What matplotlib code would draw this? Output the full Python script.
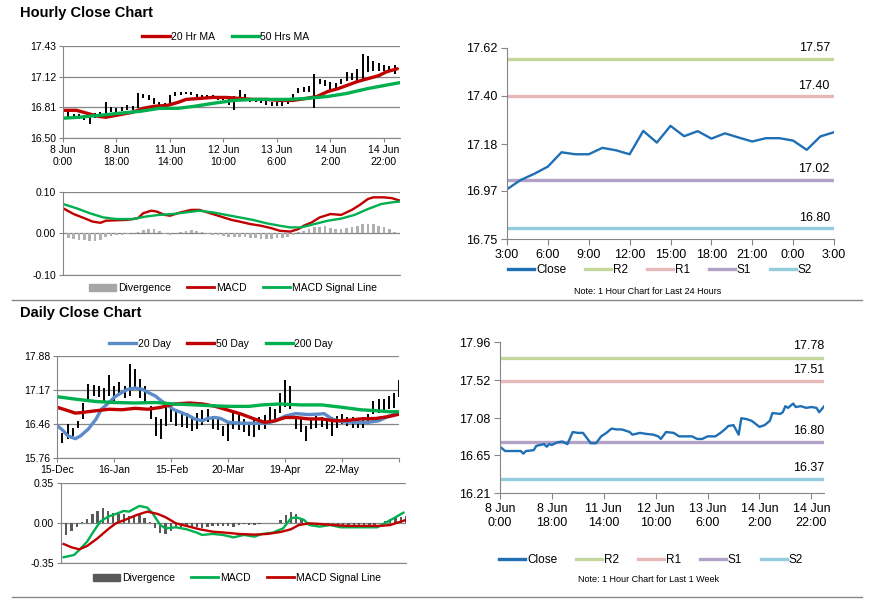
import matplotlib.pyplot as plt
from matplotlib.lines import Line2D
from matplotlib.patches import Patch

plt.rcParams['font.family'] = ['Liberation Sans', 'DejaVu Sans']

GREY = '#868686'
RED = '#c00000'
GREEN = '#00b050'
BLUE20 = '#5b8bc9'
CLOSE = '#1f6fb5'
R2C, R1C, S1C, S2C = '#c3d69b', '#e6b9b8', '#b3a2c7', '#93cddd'

# ---- hourly chart (x = trading hours since 8 Jun 0:00, one bar every 2 hours)
h_idx = list(range(0, 126, 2))
h_low = [16.72, 16.71, 16.70, 16.69, 16.68, 16.64, 16.70, 16.72, 16.74, 16.76,
         16.76, 16.77, 16.78, 16.78, 16.80, 16.90, 16.88, 16.84, 16.80, 16.81,
         16.85, 16.92, 16.93, 16.94, 16.93, 16.89, 16.89, 16.90, 16.89, 16.88,
         16.88, 16.83, 16.78, 16.89, 16.88, 16.86, 16.86, 16.85, 16.83, 16.82,
         16.82, 16.82, 16.84, 16.88, 16.95, 16.96, 16.96, 16.80, 17.05, 17.03,
         16.99, 17.00, 17.05, 17.08, 17.09, 17.08, 17.10, 17.17, 17.18, 17.18,
         17.18, 17.17, 17.15]
h_high = [16.78, 16.76, 16.74, 16.74, 16.73, 16.72, 16.75, 16.76, 16.86, 16.81,
          16.80, 16.81, 16.83, 16.82, 16.95, 16.94, 16.93, 16.90, 16.86, 16.85,
          16.93, 16.97, 16.97, 16.97, 16.97, 16.94, 16.93, 16.93, 16.93, 16.92,
          16.92, 16.90, 16.92, 16.99, 16.94, 16.90, 16.89, 16.89, 16.87, 16.86,
          16.86, 16.86, 16.89, 16.94, 17.01, 17.02, 17.03, 17.15, 17.10, 17.09,
          17.07, 17.06, 17.10, 17.17, 17.16, 17.20, 17.35, 17.33, 17.28, 17.26,
          17.24, 17.23, 17.24]
h_ma20_x = [0, 5, 9, 13, 16, 20, 26, 30, 34, 39, 43, 46, 51, 56, 61, 66, 71, 76, 81, 86,
            91, 95, 99, 103, 106, 110, 114, 118, 121, 125]
h_ma20 = [16.78, 16.78, 16.75, 16.72, 16.71, 16.73, 16.76, 16.80, 16.82, 16.83,
          16.86, 16.89, 16.90, 16.91, 16.91, 16.90, 16.89, 16.89, 16.88, 16.88,
          16.90, 16.92, 16.97, 17.00, 17.03, 17.07, 17.10, 17.13, 17.17, 17.20]
h_ma50_x = [0, 6, 14, 21, 29, 36, 43, 49, 56, 64, 71, 79, 84, 91, 99, 106, 114, 120, 126]
h_ma50 = [16.70, 16.71, 16.73, 16.75, 16.77, 16.80, 16.80, 16.82, 16.85, 16.88,
          16.89, 16.89, 16.89, 16.90, 16.92, 16.95, 17.00, 17.03, 17.06]
h_ticks = [0, 20, 40, 60, 80, 100, 120]
h_labels = ['8 Jun\n0:00', '8 Jun\n18:00', '11 Jun\n14:00', '12 Jun\n10:00',
            '13 Jun\n6:00', '14 Jun\n2:00', '14 Jun\n22:00']

h_div = [-0.010, -0.012, -0.014, -0.015, -0.017, -0.018, -0.018, -0.016, -0.010, -0.006,
         -0.004, -0.003, -0.002, 0.000, 0.004, 0.008, 0.011, 0.010, 0.005, -0.001,
         -0.003, 0.001, 0.004, 0.006, 0.007, 0.005, 0.002, -0.001, -0.003, -0.005,
         -0.007, -0.009, -0.010, -0.010, -0.010, -0.011, -0.012, -0.013, -0.013, -0.013,
         -0.012, -0.011, -0.009, -0.004, 0.002, 0.006, 0.010, 0.014, 0.016, 0.017,
         0.013, 0.010, 0.009, 0.012, 0.015, 0.018, 0.021, 0.022, 0.021, 0.018,
         0.014, 0.010, 0.004]
h_macd_x = [0, 4, 8, 11, 14, 16, 20, 24, 28, 30, 33, 35, 38, 40, 44, 48, 51, 55, 59, 63,
            66, 70, 74, 78, 81, 85, 88, 90, 93, 96, 100, 104, 108, 111, 114, 116, 120, 123, 126]
h_macd = [0.060, 0.046, 0.036, 0.028, 0.025, 0.030, 0.031, 0.032, 0.036, 0.048,
          0.054, 0.052, 0.044, 0.042, 0.050, 0.056, 0.056, 0.048, 0.040, 0.032,
          0.028, 0.022, 0.018, 0.012, 0.006, 0.004, 0.010, 0.018, 0.026, 0.038,
          0.046, 0.044, 0.056, 0.068, 0.082, 0.086, 0.086, 0.084, 0.078]
h_sig_x = [0, 5, 10, 15, 20, 26, 31, 36, 41, 46, 51, 56, 61, 66, 71, 76, 81, 85, 89, 94,
           99, 104, 109, 114, 119, 123, 126]
h_sig = [0.070, 0.060, 0.048, 0.038, 0.034, 0.034, 0.040, 0.044, 0.046, 0.050,
         0.054, 0.050, 0.044, 0.038, 0.032, 0.024, 0.018, 0.014, 0.014, 0.022,
         0.030, 0.035, 0.044, 0.058, 0.070, 0.074, 0.076]

# ---- last 24 hours
d24_labels = ['3:00', '6:00', '9:00', '12:00', '15:00', '18:00', '21:00', '0:00', '3:00']
d24_close = [16.976, 17.018, 17.046, 17.079, 17.144, 17.135, 17.135, 17.164, 17.153,
             17.135, 17.241, 17.188, 17.264, 17.217, 17.240, 17.206, 17.230, 17.211,
             17.193, 17.208, 17.208, 17.197, 17.155, 17.216, 17.235]
d24_levels = {'R2': 17.57, 'R1': 17.40, 'S1': 17.02, 'S2': 16.80}

# ---- daily chart (x = trading days since 15 Dec, one bar every 2 days)
d_idx = list(range(0, 133, 2))
d_low = [15.92, 16.08, 16.15, 16.22, 16.39, 16.56, 16.98, 17.05, 17.02, 16.95,
         17.05, 16.95, 17.09, 17.00, 17.05, 17.20, 17.00, 16.90, 16.57, 16.22,
         16.15, 16.43, 16.50, 16.43, 16.40, 16.38, 16.32, 16.36, 16.45, 16.50,
         16.36, 16.33, 16.22, 16.11, 16.36, 16.33, 16.29, 16.22, 16.19, 16.35,
         16.36, 16.53, 16.57, 16.70, 16.81, 16.78, 16.36, 16.29, 16.11, 16.36,
         16.39, 16.40, 16.36, 16.22, 16.39, 16.46, 16.43, 16.39, 16.39, 16.39,
         16.46, 16.67, 16.70, 16.74, 16.77, 16.80, 17.02]
d_high = [16.18, 16.28, 16.46, 16.38, 16.53, 16.91, 17.30, 17.28, 17.26, 17.22,
          17.47, 17.25, 17.33, 17.25, 17.71, 17.60, 17.40, 17.25, 16.84, 16.60,
          16.56, 16.88, 16.85, 16.75, 16.72, 16.70, 16.63, 16.70, 16.75, 16.78,
          16.63, 16.62, 16.42, 16.49, 16.70, 16.65, 16.56, 16.50, 16.56, 16.60,
          16.66, 16.81, 16.77, 17.10, 17.37, 17.25, 16.64, 16.57, 16.43, 16.57,
          16.64, 16.62, 16.57, 16.60, 16.64, 16.67, 16.60, 16.60, 16.57, 16.60,
          16.67, 16.95, 16.98, 16.99, 17.05, 17.10, 17.37]
d_ma20_x = [0, 2, 4, 7, 9, 12, 15, 17, 20, 22, 25, 27, 30, 33, 35, 38, 40, 43, 45, 48,
            51, 53, 56, 58, 61, 63, 66, 71, 76, 81, 84, 88, 92, 97, 101, 103, 106, 110,
            115, 120, 124, 128, 132]
d_ma20 = [16.43, 16.34, 16.22, 16.16, 16.22, 16.36, 16.57, 16.77, 16.91, 17.02,
          17.12, 17.18, 17.21, 17.18, 17.12, 17.04, 16.95, 16.84, 16.76, 16.70,
          16.63, 16.57, 16.53, 16.58, 16.60, 16.58, 16.50, 16.48, 16.48, 16.48,
          16.53, 16.63, 16.68, 16.66, 16.67, 16.68, 16.57, 16.51, 16.50, 16.50,
          16.53, 16.63, 16.70]
d_ma50_x = [0, 3, 7, 9, 15, 20, 25, 30, 35, 40, 45, 51, 56, 61, 66, 71, 76, 80, 84, 88,
            92, 97, 102, 107, 112, 117, 123, 128, 132]
d_ma50 = [16.81, 16.76, 16.69, 16.70, 16.74, 16.77, 16.76, 16.79, 16.77, 16.81,
          16.88, 16.90, 16.88, 16.83, 16.75, 16.67, 16.57, 16.50, 16.53, 16.60,
          16.60, 16.57, 16.57, 16.53, 16.54, 16.57, 16.58, 16.62, 16.67]
d_ma200_x = [0, 7, 15, 22, 30, 38, 45, 53, 61, 66, 74, 79, 86, 94, 102, 110, 117, 123, 128, 132]
d_ma200 = [17.03, 16.98, 16.93, 16.91, 16.90, 16.91, 16.88, 16.86, 16.84, 16.83,
           16.83, 16.86, 16.88, 16.86, 16.86, 16.81, 16.76, 16.74, 16.72, 16.72]
d_ticks = [0, 22, 44, 66, 88, 110, 132]
d_labels = ['15-Dec', '16-Jan', '15-Feb', '20-Mar', '19-Apr', '22-May', '']

d_div = [-0.12, -0.10, -0.07, -0.03, 0.01, 0.04, 0.08, 0.11, 0.13, 0.11,
         0.09, 0.08, 0.08, 0.06, 0.065, 0.07, 0.045, 0.015, -0.045, -0.085,
         -0.095, -0.065, -0.035, -0.033, -0.029, -0.032, -0.036, -0.045, -0.034, -0.02,
         -0.02, -0.021, -0.027, -0.034, -0.019, -0.007, -0.013, -0.018, -0.004, 0.003,
         0.0, 0.007, 0.026, 0.072, 0.096, 0.078, 0.045, 0.004, -0.018, -0.021,
         -0.017, -0.004, -0.005, -0.012, -0.015, -0.012, -0.012, -0.012, -0.012, -0.012,
         -0.012, 0.0, 0.023, 0.035, 0.048, 0.055, 0.064]
d_macd_x = [1, 5, 7, 10, 12, 15, 18, 20, 24, 26, 30, 33, 35, 38, 40, 44, 48, 52, 54, 58,
            62, 66, 70, 74, 77, 81, 85, 88, 90, 93, 95, 99, 103, 107, 112, 117, 121, 125, 128, 131]
d_macd = [-0.297, -0.277, -0.233, -0.160, -0.088, 0.015, 0.058, 0.073, 0.108, 0.102,
          0.152, 0.137, 0.088, -0.015, -0.044, -0.035, -0.052, -0.082, -0.102, -0.093,
          -0.102, -0.123, -0.102, -0.117, -0.093, -0.082, -0.044, 0.044, 0.053, 0.029,
          -0.015, -0.029, -0.015, -0.035, -0.035, -0.035, -0.035, 0.015, 0.053, 0.093]
d_sig_x = [1, 4, 7, 10, 14, 18, 21, 25, 29, 33, 37, 40, 44, 48, 53, 58, 63, 68, 74, 79,
           84, 88, 91, 95, 99, 104, 110, 117, 122, 126, 130, 132]
d_sig = [-0.181, -0.210, -0.228, -0.198, -0.131, -0.052, 0.000, 0.035, 0.073, 0.102,
         0.082, 0.053, 0.000, -0.023, -0.052, -0.073, -0.082, -0.093, -0.099, -0.093,
         -0.076, -0.052, -0.015, 0.000, -0.006, -0.015, -0.023, -0.023, -0.023, -0.015,
         0.015, 0.029]

# ---- last week, hourly close
w_x = [0, 2, 4, 8, 9, 10, 13, 14, 17, 18, 19, 20, 22, 24, 26, 28, 30, 32, 33, 35,
       37, 39, 41, 43, 45, 47, 50, 51, 54, 56, 59, 61, 62, 64, 67, 69, 72, 74, 76, 78,
       80, 83, 85, 87, 88, 90, 92, 93, 95, 97, 100, 102, 104, 105, 108, 109, 110, 111, 113, 114,
       116, 118, 120, 122, 123, 125]
w_close = [16.75, 16.70, 16.70, 16.70, 16.67, 16.70, 16.71, 16.76, 16.78, 16.75,
           16.78, 16.77, 16.80, 16.81, 16.78, 16.92, 16.91, 16.91, 16.87, 16.79,
           16.79, 16.87, 16.91, 16.96, 16.95, 16.95, 16.92, 16.89, 16.91, 16.90,
           16.89, 16.87, 16.84, 16.92, 16.91, 16.87, 16.87, 16.87, 16.84, 16.84,
           16.87, 16.87, 16.91, 16.96, 16.99, 17.00, 16.89, 17.08, 17.07, 17.05,
           16.98, 17.00, 17.05, 17.14, 17.13, 17.15, 17.22, 17.20, 17.25, 17.21,
           17.22, 17.20, 17.21, 17.20, 17.15, 17.22]
w_levels = {'R2': 17.78, 'R1': 17.51, 'S1': 16.80, 'S2': 16.37}

fig = plt.figure(figsize=(8.73, 6.01), dpi=100)


def add_ax(x0, y0, x1, y1):
    # pixel box -> figure fraction
    return fig.add_axes([x0 / 873, 1 - y1 / 601, (x1 - x0) / 873, (y1 - y0) / 601])


def style(ax, size, grid=True):
    ax.spines['top'].set_visible(False)
    ax.spines['right'].set_visible(False)
    ax.spines['left'].set_color(GREY)
    ax.spines['bottom'].set_color(GREY)
    ax.tick_params(colors=GREY, labelcolor='black', labelsize=size, length=3, width=0.8, pad=2)
    if grid:
        ax.yaxis.grid(True, color=GREY, lw=0.9)
        ax.set_axisbelow(True)


def fig_legend(handles, labels, x, y, size, hl=2.6):
    fig.legend(handles, labels, loc='center', bbox_to_anchor=(x / 873, 1 - y / 601),
               ncol=len(labels), frameon=False, fontsize=size, handlelength=hl,
               handletextpad=0.15, columnspacing=1.6, borderpad=0)


def line(c, lw=2.4):
    return Line2D([], [], color=c, lw=lw)


fig.text(20 / 873, 1 - 13 / 601, 'Hourly Close Chart', fontsize=10.5, fontweight='bold', va='center')
fig.text(20 / 873, 1 - 313 / 601, 'Daily Close Chart', fontsize=10.5, fontweight='bold', va='center')
fig.add_artist(Line2D([12 / 873, 862 / 873], [1 - 300 / 601] * 2, color=GREY, lw=1))
fig.add_artist(Line2D([12 / 873, 862 / 873], [1 - 597 / 601] * 2, color=GREY, lw=1))

# hourly price
ax1 = add_ax(63, 46, 400, 138)
ax1.vlines(h_idx, h_low, h_high, color='black', lw=1.4)
ax1.plot(h_ma20_x, h_ma20, color=RED, lw=2.4, solid_capstyle='round')
ax1.plot(h_ma50_x, h_ma50, color=GREEN, lw=2.4, solid_capstyle='round')
ax1.set_xlim(0, 126)
ax1.set_ylim(16.50, 17.43)
ax1.set_yticks([16.50, 16.81, 17.12, 17.43], ['16.50', '16.81', '17.12', '17.43'])
ax1.set_xticks(h_ticks, h_labels)
style(ax1, 7.5)
fig_legend([line(RED), line(GREEN)], ['20 Hr MA', '50 Hrs MA'], 226, 37, 7.5)

# hourly MACD
ax2 = add_ax(63, 191.5, 400, 275)
ax2.bar(h_idx, h_div, width=1.0, color='#b0b0b0')
ax2.plot(h_macd_x, h_macd, color=RED, lw=1.7)
ax2.plot(h_sig_x, h_sig, color=GREEN, lw=1.7)
ax2.set_xlim(0, 126)
ax2.set_ylim(-0.10, 0.10)
ax2.set_yticks([-0.10, 0.0, 0.10], ['-0.10', '0.00', '0.10'])
ax2.set_xticks([])
style(ax2, 7.5)
fig_legend([Patch(color='#a6a6a6'), line(RED, 2), line(GREEN, 2)],
           ['Divergence', 'MACD', 'MACD Signal Line'], 233, 288, 7.5)

# last 24 hours
ax3 = add_ax(507, 47.5, 834, 239)
lev_cols = [R2C, R1C, S1C, S2C]
for (name, v), c in zip(d24_levels.items(), lev_cols):
    ax3.axhline(v, color=c, lw=2.4)
    ax3.annotate('%.2f' % v, (1, v), xycoords=('axes fraction', 'data'), xytext=(-3, 3),
                 textcoords='offset points', ha='right', va='bottom', fontsize=9)
ax3.plot(range(len(d24_close)), d24_close, color=CLOSE, lw=1.7)
ax3.set_xlim(0, 24)
ax3.set_ylim(16.75, 17.62)
ax3.set_yticks([16.75, 16.97, 17.18, 17.40, 17.62], ['16.75', '16.97', '17.18', '17.40', '17.62'])
ax3.set_xticks(range(0, 25, 3), d24_labels)
style(ax3, 9, grid=False)
ax3.tick_params(length=4, pad=3)
fig_legend([line(CLOSE)] + [line(c) for c in lev_cols], ['Close', 'R2', 'R1', 'S1', 'S2'],
           660, 270, 8.5, hl=2.2)
fig.text(648 / 873, 1 - 292 / 601, 'Note: 1 Hour Chart for Last 24 Hours', fontsize=6.5,
         ha='center', va='center')

# daily price
ax4 = add_ax(57.3, 355.7, 399.3, 458)
ax4.vlines(d_idx, d_low, d_high, color='black', lw=1.4)
ax4.plot(d_ma20_x, d_ma20, color=BLUE20, lw=2.4)
ax4.plot(d_ma50_x, d_ma50, color=RED, lw=2.4)
ax4.plot(d_ma200_x, d_ma200, color=GREEN, lw=2.4)
ax4.set_xlim(0, 132)
ax4.set_ylim(15.76, 17.88)
ax4.set_yticks([15.76, 16.46, 17.17, 17.88], ['15.76', '16.46', '17.17', '17.88'])
ax4.set_xticks(d_ticks, d_labels)
style(ax4, 7.5)
fig_legend([line(BLUE20), line(RED), line(GREEN)], ['20 Day', '50 Day', '200 Day'], 221, 344, 7.5)

# daily MACD
ax5 = add_ax(61, 483.3, 406, 563.3)
ax5.bar(d_idx, d_div, width=0.9, color='#595959')
ax5.plot(d_macd_x, d_macd, color=GREEN, lw=1.7)
ax5.plot(d_sig_x, d_sig, color=RED, lw=1.7)
ax5.set_xlim(0, 132)
ax5.set_ylim(-0.35, 0.35)
ax5.set_yticks([-0.35, 0.0, 0.35], ['-0.35', '0.00', '0.35'])
ax5.set_xticks([])
style(ax5, 7.5)
fig_legend([Patch(color='#595959'), line(GREEN, 2), line(RED, 2)],
           ['Divergence', 'MACD', 'MACD Signal Line'], 237, 578, 7.5)

# last week
ax6 = add_ax(500, 342.3, 824.3, 493.3)
for (name, v), c in zip(w_levels.items(), lev_cols):
    ax6.axhline(v, color=c, lw=2.4)
    ax6.annotate('%.2f' % v, (1, v), xycoords=('axes fraction', 'data'), xytext=(0, 4),
                 textcoords='offset points', ha='right', va='bottom', fontsize=9)
ax6.plot(w_x, w_close, color=CLOSE, lw=1.7)
ax6.set_xlim(0, 125)
ax6.set_ylim(16.21, 17.96)
ax6.set_yticks([16.21, 16.65, 17.08, 17.52, 17.96], ['16.21', '16.65', '17.08', '17.52', '17.96'])
ax6.set_xticks(h_ticks, h_labels)
style(ax6, 9, grid=False)
ax6.tick_params(length=4, pad=3)
fig_legend([line(CLOSE)] + [line(c) for c in lev_cols], ['Close', 'R2', 'R1', 'S1', 'S2'],
           651, 560, 8.5, hl=2.2)
fig.text(648 / 873, 1 - 580 / 601, 'Note: 1 Hour Chart for Last 1 Week', fontsize=6.5,
         ha='center', va='center')

fig.savefig('out.png', dpi=100)
